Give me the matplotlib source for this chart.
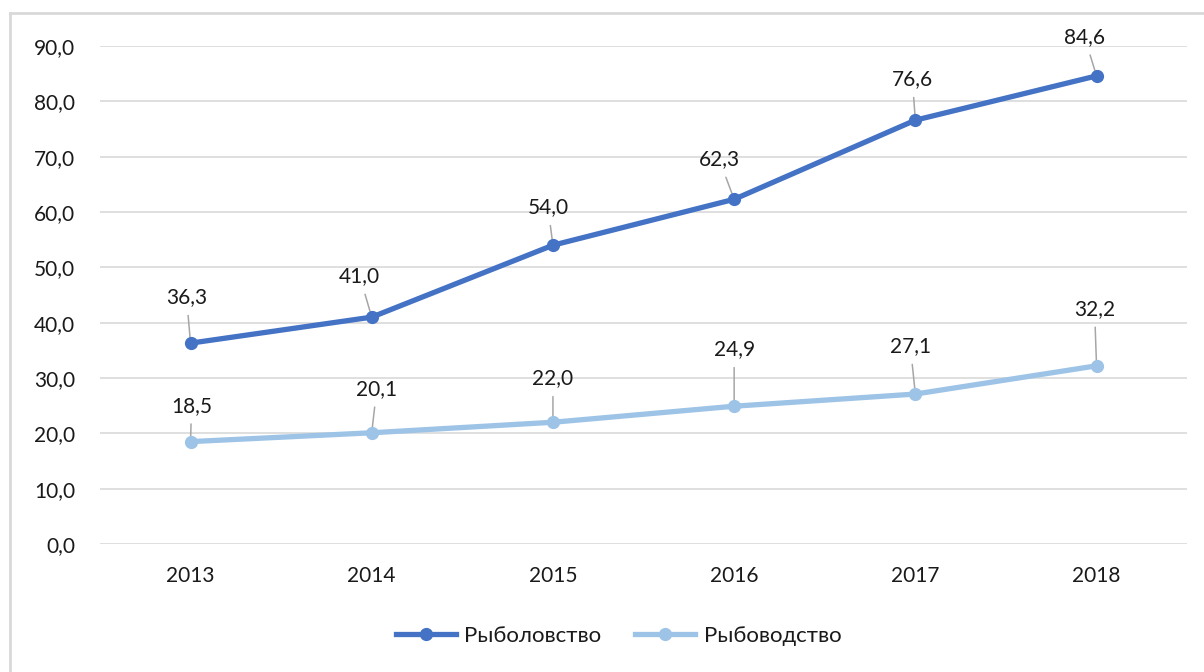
import numpy as np
import matplotlib.pyplot as plt
from matplotlib.lines import Line2D

years = ["2013", "2014", "2015", "2016", "2017", "2018"]
fishing = [36.3, 41.0, 54.0, 62.3, 76.6, 84.6]
farming = [18.5, 20.1, 22.0, 24.9, 27.1, 32.2]

# label centre offsets (pixels) from each point, as placed in the source chart
fishing_off = [(-4, 46), (-12, 41), (-5, 38), (-15, 40), (-3, 41), (-12, 39)]
farming_off = [(1, 36), (5, 44), (0, 44), (0, 57), (-5, 48), (-2, 57)]

plt.rcParams['font.family'] = ['Lato', 'DejaVu Sans']

fig = plt.figure(figsize=(12.04, 6.72), dpi=100)
ax = fig.add_axes([0.083, 0.1905, 0.903, 0.741])

x = np.arange(len(years))
c1 = "#4472C4"
c2 = "#9DC3E6"
txt = "#1a1a1a"
ax.plot(x, fishing, color=c1, lw=3.8, marker="o", ms=8.5, zorder=3, label="Рыболовство")
ax.plot(x, farming, color=c2, lw=3.8, marker="o", ms=8.5, zorder=3, label="Рыбоводство")

def fmt(v):
    return f"{v:.1f}".replace(".", ",")

for vals, offs in [(fishing, fishing_off), (farming, farming_off)]:
    for xi, v, off in zip(x, vals, offs):
        ax.annotate(fmt(v), (xi, v), xytext=off, textcoords="offset pixels",
                    ha="center", va="center", fontsize=15, color=txt,
                    arrowprops=dict(arrowstyle="-", color="#A6A6A6", lw=1.1,
                                    shrinkA=4, shrinkB=0),
                    zorder=2)

ax.set_xlim(-0.5, 5.5)
ax.set_ylim(0, 90)
ax.set_yticks(np.arange(0, 91, 10))
ax.set_yticklabels([fmt(v) for v in np.arange(0, 91, 10)])
ax.set_xticks(x)
ax.set_xticklabels(years)
ax.tick_params(length=0, labelsize=15, labelcolor=txt)
ax.tick_params(axis="y", pad=18)
ax.tick_params(axis="x", pad=16)
ax.grid(axis="y", color="#D9D9D9", lw=1.2)
ax.set_axisbelow(True)
for s in ax.spines.values():
    s.set_visible(False)

ax.legend(loc="center", bbox_to_anchor=(0.477, -0.185), ncol=2, frameon=False,
          fontsize=16, handlelength=2.7, handletextpad=0.4, columnspacing=1.5,
          labelcolor=txt)

# partial border of the source image (left and top)
fig.add_artist(Line2D([10 / 1204, 10 / 1204], [0, 1 - 13 / 672], color="#D9D9D9", lw=2))
fig.add_artist(Line2D([10 / 1204, 1], [1 - 13 / 672, 1 - 13 / 672], color="#D9D9D9", lw=2))

fig.savefig("out.png", dpi=100)
